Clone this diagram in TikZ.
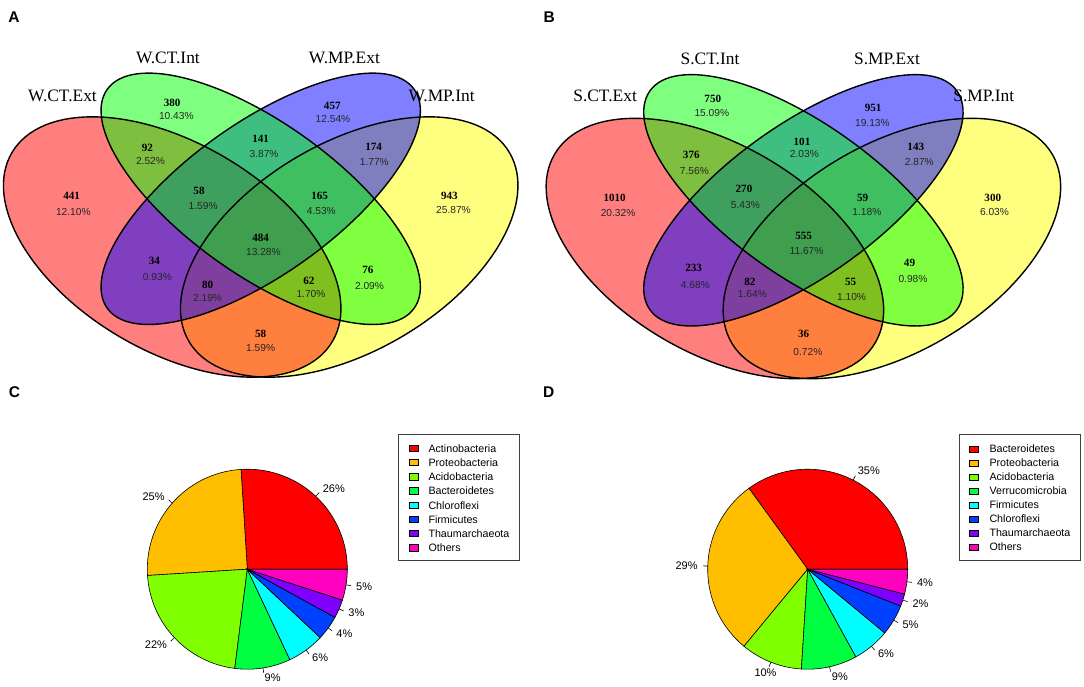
\documentclass[tikz,border=0pt]{standalone}
\usepackage{fontspec}
\setmainfont{Liberation Serif}
\newfontfamily\arialf{Liberation Sans}
\definecolor{vred}{rgb}{1,0,0}
\definecolor{vgreen}{rgb}{0,1,0}
\definecolor{vblue}{rgb}{0,0,1}
\definecolor{vyellow}{rgb}{1,1,0}
\definecolor{p1}{HTML}{FF0000}
\definecolor{p2}{HTML}{FFBF00}
\definecolor{p3}{HTML}{80FF00}
\definecolor{p4}{HTML}{00FF40}
\definecolor{p5}{HTML}{00FFFF}
\definecolor{p6}{HTML}{0040FF}
\definecolor{p7}{HTML}{8000FF}
\definecolor{p8}{HTML}{FF00BF}
\definecolor{legline}{HTML}{404040}
\tikzset{
  vfill/.style={fill=#1, fill opacity=0.5},
  vline/.style={draw=black, line width=1.4pt},
  outerell/.style={x radius=186, y radius=104},
  innerell/.style={x radius=188.5, y radius=75.8},
  setlbl/.style={font=\fontsize{17.4}{20}\selectfont, anchor=base, inner sep=0pt},
  cnt/.style={font=\fontsize{11.1}{13}\selectfont\bfseries, inner sep=0pt},
  pct/.style={font=\arialf\fontsize{10.2}{12}\selectfont, inner sep=0pt, text=black!85},
  panel/.style={font=\arialf\bfseries\fontsize{15.5}{18}\selectfont, anchor=base west, inner sep=0pt},
  slice/.style={fill=#1, draw=black, line width=0.6pt},
  pietick/.style={draw=black, line width=0.6pt},
  plbl/.style={font=\arialf\fontsize{11}{13}\selectfont, inner sep=0pt},
  legbox/.style={draw=legline, line width=0.9pt},
  legsq/.style={draw=black, line width=0.5pt, fill=#1},
  legtxt/.style={font=\arialf\fontsize{10.7}{12}\selectfont, anchor=base west, inner sep=0pt}
}
% pixel coordinates, y downward; positive rotate = tilted up-right
\newcommand{\vennshapes}{%
  \fill[vfill=vyellow, shift={(349.2,247)}, rotate=30.5] (0,0) ellipse [outerell];
  \fill[vfill=vred, shift={(172.2,247)}, rotate=-30.5] (0,0) ellipse [outerell];
  \fill[vfill=vblue, shift={(260.7,198.8)}, rotate=35.5] (0,0) ellipse [innerell];
  \fill[vfill=vgreen, shift={(260.7,198.8)}, rotate=-35.5] (0,0) ellipse [innerell];
  \draw[vline, shift={(349.2,247)}, rotate=30.5] (0,0) ellipse [outerell];
  \draw[vline, shift={(172.2,247)}, rotate=-30.5] (0,0) ellipse [outerell];
  \draw[vline, shift={(260.7,198.8)}, rotate=35.5] (0,0) ellipse [innerell];
  \draw[vline, shift={(260.7,198.8)}, rotate=-35.5] (0,0) ellipse [innerell];
}
\begin{document}
\begin{tikzpicture}[x=1pt,y=-1pt]
\fill[white] (0,0) rectangle (1084,687);
\useasboundingbox (0,0) rectangle (1084,687);

% ---------------- Panel letters
\node[panel] (lA) at (8.3,22.7) {A};
\node[panel] (lB) at (543.5,22.7) {B};
\node[panel] (lC) at (8.6,397) {C};
\node[panel] (lD) at (542.8,397) {D};

% ---------------- Venn A
\begin{scope}
  \vennshapes
\end{scope}
\node[setlbl] (aE1) at (62.5,101.7) {W.CT.Ext};
\node[setlbl] (aE2) at (167.9,63.3) {W.CT.Int};
\node[setlbl] (aE3) at (344.4,63.3) {W.MP.Ext};
\node[setlbl] (aE4) at (441.6,101.7) {W.MP.Int};

\node[cnt] (a1) at (172.2,103.3) {380};  \node[pct] (a1p) at (176.3,115.7) {10.43\%};
\node[cnt] (a2) at (332.3,106) {457};    \node[pct] (a2p) at (333,119) {12.54\%};
\node[cnt] (a3) at (147.4,147.7) {92};   \node[pct] (a3p) at (150.5,161) {2.52\%};
\node[cnt] (a4) at (260.7,139.3) {141};  \node[pct] (a4p) at (264.1,154) {3.87\%};
\node[cnt] (a5) at (373.6,146.7) {174};  \node[pct] (a5p) at (374.3,162) {1.77\%};
\node[cnt] (a6) at (71.6,196) {441};     \node[pct] (a6p) at (73.3,211.7) {12.10\%};
\node[cnt] (a7) at (199,191) {58};       \node[pct] (a7p) at (203.2,206) {1.59\%};
\node[cnt] (a8) at (319.6,196) {165};    \node[pct] (a8p) at (321.3,210.7) {4.53\%};
\node[cnt] (a9) at (449.4,196) {943};    \node[pct] (a9p) at (453.5,210) {25.87\%};
\node[cnt] (a10) at (260.7,237.7) {484}; \node[pct] (a10p) at (263.4,252) {13.28\%};
\node[cnt] (a11) at (154.3,260.7) {34};  \node[pct] (a11p) at (157.4,277.3) {0.93\%};
\node[cnt] (a12) at (367.8,270) {76};    \node[pct] (a12p) at (369.5,285.7) {2.09\%};
\node[cnt] (a13) at (207.6,285) {80};    \node[pct] (a13p) at (207.6,297.7) {2.19\%};
\node[cnt] (a14) at (308.9,280.7) {62};  \node[pct] (a14p) at (311,294) {1.70\%};
\node[cnt] (a15) at (260.7,334.3) {58};  \node[pct] (a15p) at (260.7,348.3) {1.59\%};

% ---------------- Venn B
\begin{scope}[shift={(542.7,1.5)}]
  \vennshapes
\end{scope}
\node[setlbl] (bE1) at (605.1,101.7) {S.CT.Ext};
\node[setlbl] (bE2) at (710,65) {S.CT.Int};
\node[setlbl] (bE3) at (887,65) {S.MP.Ext};
\node[setlbl] (bE4) at (983.8,101.7) {S.MP.Int};

\node[cnt] (b1) at (712.8,99.3) {750};   \node[pct] (b1p) at (711.8,113.3) {15.09\%};
\node[cnt] (b2) at (873.1,107.7) {951};  \node[pct] (b2p) at (872.4,123.3) {19.13\%};
\node[cnt] (b3) at (691.3,155.3) {376};  \node[pct] (b3p) at (694.4,170.7) {7.56\%};
\node[cnt] (b4) at (802,141.7) {101};    \node[pct] (b4p) at (804.4,154.3) {2.03\%};
\node[cnt] (b5) at (915.8,147) {143};    \node[pct] (b5p) at (919.3,162) {2.87\%};
\node[cnt] (b6) at (614.6,197.7) {1010}; \node[pct] (b6p) at (618.1,212.7) {20.32\%};
\node[cnt] (b7) at (744,188.7) {270};    \node[pct] (b7p) at (745.4,205.3) {5.43\%};
\node[cnt] (b8) at (862.7,197.7) {59};   \node[pct] (b8p) at (866.9,212) {1.18\%};
\node[cnt] (b9) at (992.8,197.7) {300};  \node[pct] (b9p) at (994.5,212) {6.03\%};
\node[cnt] (b10) at (803.7,235.7) {555}; \node[pct] (b10p) at (806.5,250.7) {11.67\%};
\node[cnt] (b11) at (693.7,268.3) {233}; \node[pct] (b11p) at (695.4,285) {4.68\%};
\node[cnt] (b12) at (909.5,263.3) {49};  \node[pct] (b12p) at (913,278.7) {0.98\%};
\node[cnt] (b13) at (749.9,281.7) {82};  \node[pct] (b13p) at (752.4,294) {1.64\%};
\node[cnt] (b14) at (850.6,282.3) {55};  \node[pct] (b14p) at (851.6,296.7) {1.10\%};
\node[cnt] (b15) at (803.7,334.3) {36};  \node[pct] (b15p) at (807.9,352.3) {0.72\%};

% ---------------- Pie C
\begin{scope}[shift={(247.3,569.2)}, yscale=-1]
  \foreach \s/\e/\c in {0/93.6/p1, 93.6/183.6/p2, 183.6/262.8/p3, 262.8/295.2/p4,
                        295.2/316.8/p5, 316.8/331.2/p6, 331.2/342/p7, 342/360/p8}
    \filldraw[slice=\c] (0,0) -- (\s:100) arc[start angle=\s, end angle=\e, radius=100] -- cycle;
  \foreach \m in {46.8,138.6,223.2,279,306,324,336.6,351}
    \draw[pietick] (\m:100) -- (\m:105);
  \node[plbl, anchor=west] (c1) at (46.8:110) {26\%};
  \node[plbl, anchor=east] (c2) at (138.6:110) {25\%};
  \node[plbl, anchor=east] (c3) at (223.2:110) {22\%};
  \node[plbl, anchor=west] (c4) at (279:110) {9\%};
  \node[plbl, anchor=west] (c5) at (306:110) {6\%};
  \node[plbl, anchor=west] (c6) at (324:110) {4\%};
  \node[plbl, anchor=west] (c7) at (336.6:110) {3\%};
  \node[plbl, anchor=west] (c8) at (351:110) {5\%};
\end{scope}
\draw[legbox] (398.3,434) rectangle (519.3,560.7);
\foreach \c/\t [count=\i from 0] in {p1/Actinobacteria, p2/Proteobacteria, p3/Acidobacteria,
   p4/Bacteroidetes, p5/Chloroflexi, p6/Firmicutes, p7/Thaumarchaeota, p8/Others}{
  \pgfmathsetmacro\yy{448.3+14.2*\i}
  \filldraw[legsq=\c] (409,\yy-3.2) rectangle (418,\yy+3.2);
  \node[legtxt] (lc\i) at (428.3,\yy+3.9) {\t};
}

% ---------------- Pie D
\begin{scope}[shift={(807.7,569.2)}, yscale=-1]
  \foreach \s/\e/\c in {0/126/p1, 126/230.4/p2, 230.4/266.4/p3, 266.4/298.8/p4,
                        298.8/320.4/p5, 320.4/338.4/p6, 338.4/345.6/p7, 345.6/360/p8}
    \filldraw[slice=\c] (0,0) -- (\s:100) arc[start angle=\s, end angle=\e, radius=100] -- cycle;
  \foreach \m in {63,178.2,248.4,282.6,309.6,329.4,342,352.8}
    \draw[pietick] (\m:100) -- (\m:105);
  \node[plbl, anchor=west] (d1) at (63:110) {35\%};
  \node[plbl, anchor=east] (d2) at (178.2:110) {29\%};
  \node[plbl] (d3) at (-42.2,-103.8) {10\%};
  \node[plbl, anchor=west] (d4) at (282.6:110) {9\%};
  \node[plbl, anchor=west] (d5) at (309.6:110) {6\%};
  \node[plbl, anchor=west] (d6) at (329.4:110) {5\%};
  \node[plbl, anchor=west] (d7) at (342:110) {2\%};
  \node[plbl, anchor=west] (d8) at (352.8:110) {4\%};
\end{scope}
\draw[legbox] (959.3,434.3) rectangle (1080.2,560.7);
\foreach \c/\t [count=\i from 0] in {p1/Bacteroidetes, p2/Proteobacteria, p3/Acidobacteria,
   p4/Verrucomicrobia, p5/Firmicutes, p6/Chloroflexi, p7/Thaumarchaeota, p8/Others}{
  \pgfmathsetmacro\yy{449+14.0*\i}
  \filldraw[legsq=\c] (969.3,\yy-3.2) rectangle (978.5,\yy+3.2);
  \node[legtxt] (ld\i) at (989.3,\yy+3.9) {\t};
}
\end{tikzpicture}
\end{document}
